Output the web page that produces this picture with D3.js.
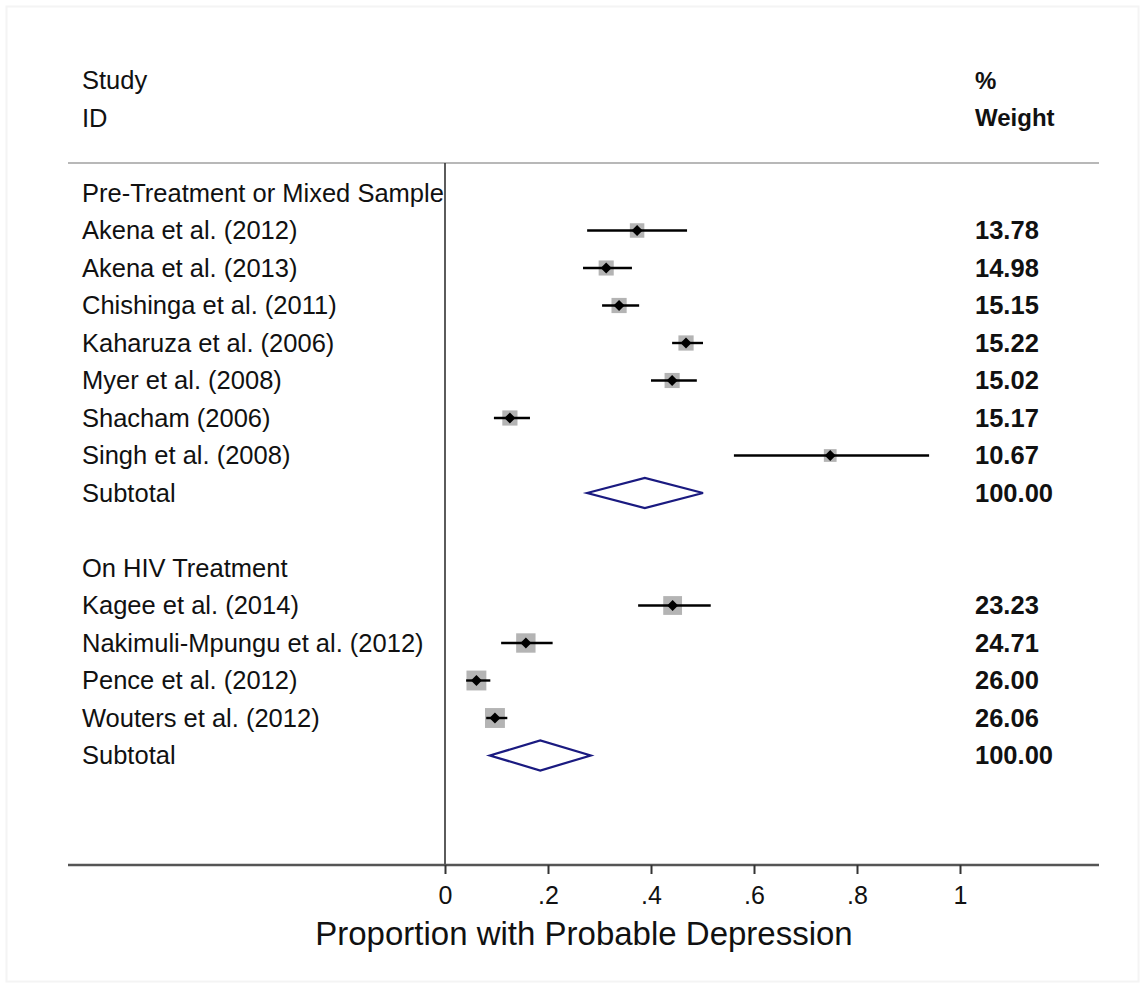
<!DOCTYPE html>
<html>
<head>
<meta charset="utf-8">
<script src="https://cdn.jsdelivr.net/npm/d3@7"></script>
<style>
  body { margin: 0; background: #fff; }
  svg { display: block; font-family: "Liberation Sans", Arial, Helvetica, sans-serif; }
</style>
</head>
<body>
<div id="chart"></div>
<script>
// study rows (row index in the table, 0 = first group heading)
var studies = ["Akena et al. (2012)", "Akena et al. (2013)", "Chishinga et al. (2011)",
  "Kaharuza et al. (2006)", "Myer et al. (2008)", "Shacham (2006)", "Singh et al. (2008)",
  "Kagee et al. (2014)", "Nakimuli-Mpungu et al. (2012)", "Pence et al. (2012)", "Wouters et al. (2012)"];
var studyRow = [1, 2, 3, 4, 5, 6, 7, 11, 12, 13, 14];
var est = [0.373, 0.313, 0.338, 0.468, 0.441, 0.126, 0.748, 0.442, 0.157, 0.061, 0.097];
var lo  = [0.276, 0.268, 0.305, 0.441, 0.400, 0.095, 0.561, 0.375, 0.109, 0.041, 0.080];
var hi  = [0.470, 0.363, 0.377, 0.501, 0.489, 0.165, 0.940, 0.516, 0.209, 0.088, 0.121];
var weight = [13.78, 14.98, 15.15, 15.22, 15.02, 15.17, 10.67, 23.23, 24.71, 26.00, 26.06];

var groups = ["Pre-Treatment or Mixed Sample", "On HIV Treatment"];
var groupRow = [0, 10];
var subRow = [8, 15];
var subEst = [0.388, 0.185];
var subLo  = [0.276, 0.087];
var subHi  = [0.501, 0.283];
var subWeight = [100, 100];

var ticks = [0, 0.2, 0.4, 0.6, 0.8, 1];
var xTitle = "Proportion with Probable Depression";

var W = 1144, H = 987;
var svg = d3.select("#chart").append("svg").attr("width", W).attr("height", H);

// faint frame around the picture
svg.append("rect").attr("x", 6.5).attr("y", 6.5).attr("width", W - 12).attr("height", H - 12)
  .attr("fill", "none").attr("stroke", "#f4f4f4").attr("stroke-width", 2);

var x = d3.scaleLinear().domain([0, 1]).range([445, 960]);
var y = d3.scaleLinear().domain([0, 15]).range([193, 755.5]);

// header
var head = svg.append("g").attr("font-size", 25.5).attr("fill", "#111");
head.append("text").attr("x", 82).attr("y", y(-3)).attr("dy", "0.35em").text("Study");
head.append("text").attr("x", 82).attr("y", y(-2)).attr("dy", "0.35em").text("ID");
head.append("text").attr("x", 975).attr("y", y(-3)).attr("dy", "0.35em").attr("font-size", 24).attr("font-weight", "bold").text("%");
head.append("text").attr("x", 975).attr("y", y(-2)).attr("dy", "0.35em").attr("font-size", 24).attr("font-weight", "bold").text("Weight");

svg.append("line").attr("x1", 68).attr("x2", 1099).attr("y1", 163).attr("y2", 163)
  .attr("stroke", "#b8b8b8").attr("stroke-width", 2);

// null line
svg.append("line").attr("x1", x(0)).attr("x2", x(0)).attr("y1", 163).attr("y2", 865)
  .attr("stroke", "#333").attr("stroke-width", 1.6);

// labels
var lab = svg.append("g").attr("font-size", 25.5).attr("fill", "#111");
lab.selectAll(".grp").data(groups).join("text")
  .attr("x", 82).attr("y", function(d, i){ return y(groupRow[i]); }).attr("dy", "0.35em")
  .text(function(d){ return d; });
lab.selectAll(".st").data(studies).join("text")
  .attr("x", 82).attr("y", function(d, i){ return y(studyRow[i]); }).attr("dy", "0.35em")
  .text(function(d){ return d; });
lab.selectAll(".sub").data(subRow).join("text")
  .attr("x", 82).attr("y", function(d){ return y(d); }).attr("dy", "0.35em")
  .text("Subtotal");

// weights
var wt = svg.append("g").attr("font-size", 25.5).attr("font-weight", "bold").attr("fill", "#111");
wt.selectAll(".w").data(weight).join("text")
  .attr("x", 975).attr("y", function(d, i){ return y(studyRow[i]); }).attr("dy", "0.35em")
  .text(function(d){ return d.toFixed(2); });
wt.selectAll(".sw").data(subWeight).join("text")
  .attr("x", 975).attr("y", function(d, i){ return y(subRow[i]); }).attr("dy", "0.35em")
  .text(function(d){ return d.toFixed(2); });

// study markers: weight box, CI line, point
var marks = svg.append("g");
var side = function(w){ return 3.9 * Math.sqrt(w); };
marks.selectAll(".box").data(weight).join("rect")
  .attr("x", function(d, i){ return x(est[i]) - side(d) / 2; })
  .attr("y", function(d, i){ return y(studyRow[i]) - side(d) / 2; })
  .attr("width", side).attr("height", side)
  .attr("fill", "#b4b4b4");
marks.selectAll(".ci").data(est).join("line")
  .attr("x1", function(d, i){ return x(lo[i]); })
  .attr("x2", function(d, i){ return x(hi[i]); })
  .attr("y1", function(d, i){ return y(studyRow[i]); })
  .attr("y2", function(d, i){ return y(studyRow[i]); })
  .attr("stroke", "#000").attr("stroke-width", 2.4);
marks.selectAll(".pt").data(est).join("path")
  .attr("transform", function(d, i){ return "translate(" + x(d) + "," + y(studyRow[i]) + ")"; })
  .attr("d", "M0,-5.5L5.5,0L0,5.5L-5.5,0Z")
  .attr("fill", "#000");

// subtotal diamonds
marks.selectAll(".dia").data(subEst).join("path")
  .attr("d", function(d, i){
    var cy = y(subRow[i]), h = 15;
    return "M" + x(subLo[i]) + "," + cy + "L" + x(d) + "," + (cy - h) +
      "L" + x(subHi[i]) + "," + cy + "L" + x(d) + "," + (cy + h) + "Z";
  })
  .attr("fill", "none").attr("stroke", "#1a1a80").attr("stroke-width", 2.2);

// x axis
svg.append("line").attr("x1", 68).attr("x2", 1099).attr("y1", 865).attr("y2", 865)
  .attr("stroke", "#555").attr("stroke-width", 2.4);
var ax = svg.append("g").attr("transform", "translate(0,865)")
  .call(d3.axisBottom(x).tickValues(ticks).tickSize(9).tickPadding(12)
    .tickFormat(function(d){ return d === 0 ? "0" : d === 1 ? "1" : String(d).replace(/^0/, ""); }));
ax.select(".domain").remove();
ax.selectAll(".tick line").attr("stroke", "#333").attr("stroke-width", 2);
ax.selectAll(".tick text").attr("font-size", 25).attr("fill", "#111")
  .attr("font-family", "'Liberation Sans', Arial, sans-serif");

svg.append("text").attr("x", 584).attr("y", 933).attr("dy", "0.35em")
  .attr("text-anchor", "middle").attr("font-size", 33).attr("fill", "#111")
  .text(xTitle);
</script>
</body>
</html>
